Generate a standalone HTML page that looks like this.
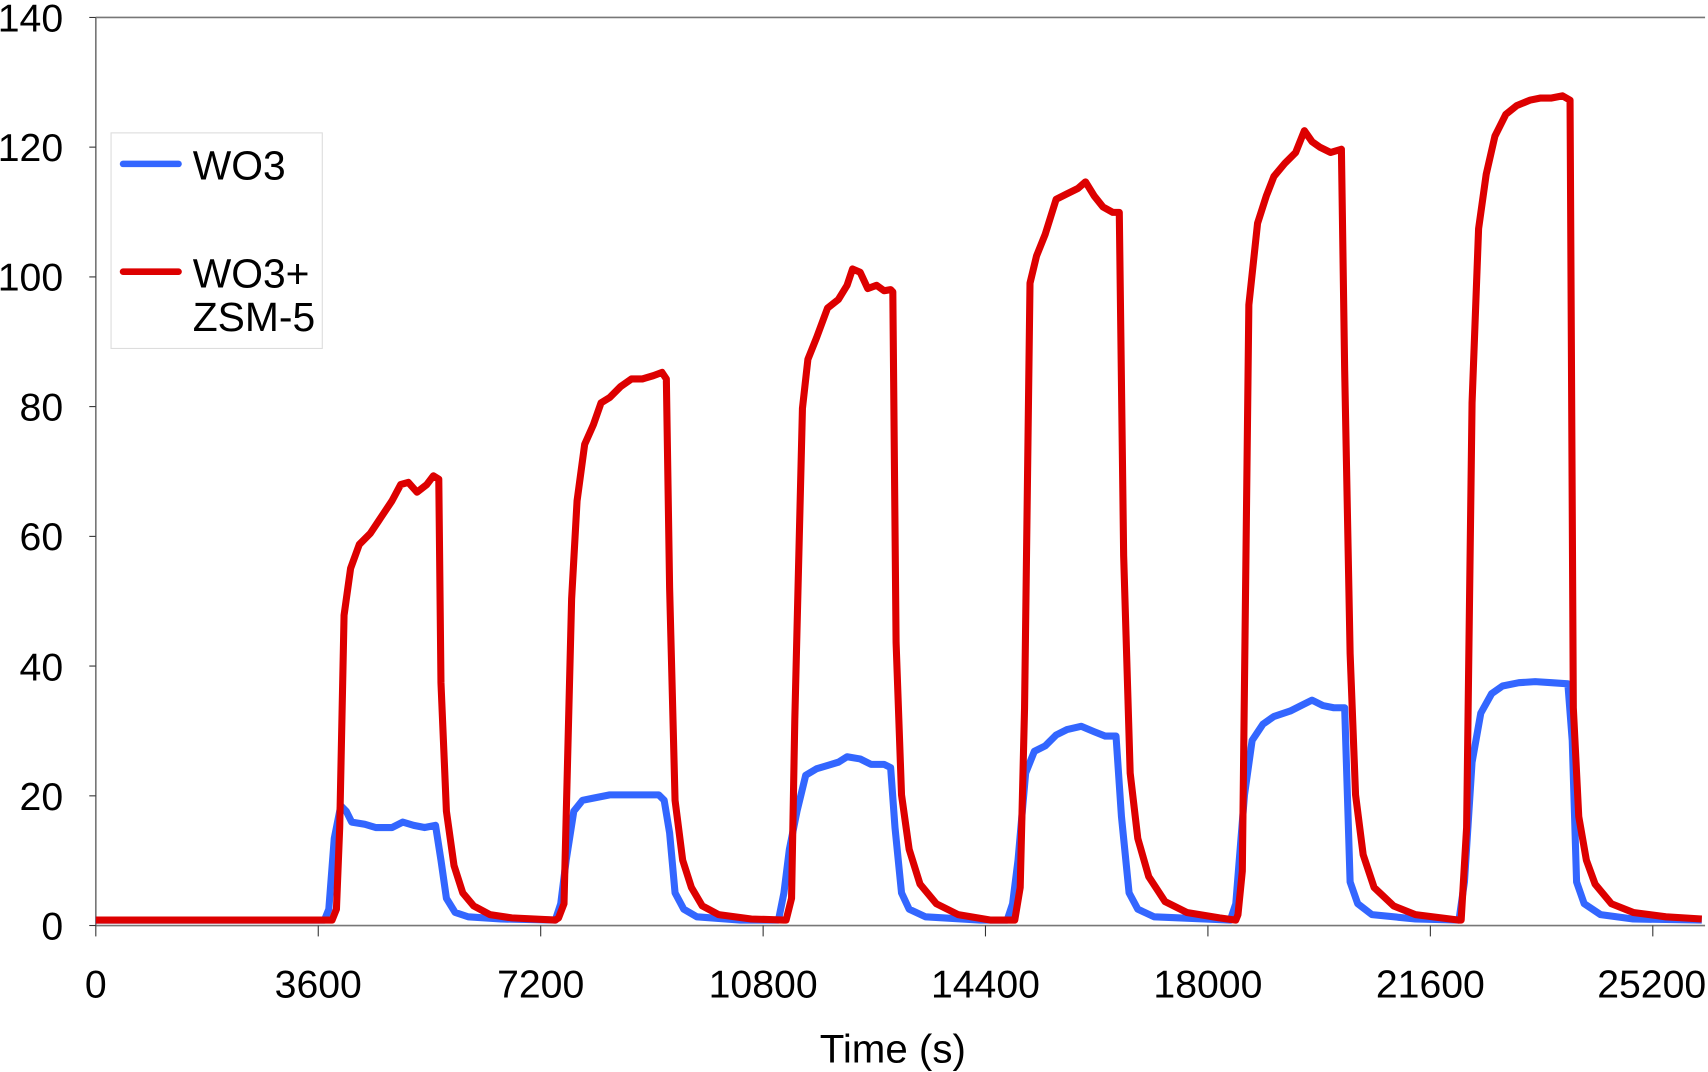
<!DOCTYPE html>
<html><head><style>html,body{margin:0;padding:0;background:#fff}svg{display:block}</style></head>
<body>
<svg width="1708" height="1072" viewBox="0 0 1568.7 984.5" xmlns="http://www.w3.org/2000/svg" font-family="Liberation Sans, sans-serif">
<rect width="1568.7" height="984.5" fill="#fff"/>
<g stroke="#777" stroke-width="1.5" fill="none">
<line x1="88" y1="16" x2="1566" y2="16"/>
<line x1="88" y1="16" x2="88" y2="850"/>
<line x1="88" y1="850" x2="1566" y2="850"/>
</g>
<g stroke="#333" stroke-width="1">
<line x1="82" y1="16" x2="88" y2="16"/><line x1="82" y1="135.1" x2="88" y2="135.1"/><line x1="82" y1="254.3" x2="88" y2="254.3"/><line x1="82" y1="373.4" x2="88" y2="373.4"/><line x1="82" y1="492.6" x2="88" y2="492.6"/><line x1="82" y1="611.7" x2="88" y2="611.7"/><line x1="82" y1="730.9" x2="88" y2="730.9"/><line x1="82" y1="850" x2="88" y2="850"/>
<line x1="88" y1="850" x2="88" y2="860"/><line x1="292.3" y1="850" x2="292.3" y2="860"/><line x1="496.6" y1="850" x2="496.6" y2="860"/><line x1="700.9" y1="850" x2="700.9" y2="860"/><line x1="905.1" y1="850" x2="905.1" y2="860"/><line x1="1109.4" y1="850" x2="1109.4" y2="860"/><line x1="1313.7" y1="850" x2="1313.7" y2="860"/><line x1="1518" y1="850" x2="1518" y2="860"/>
</g>
<g font-size="36" fill="#000" text-anchor="end">
<text x="58" y="29">140</text><text x="58" y="148">120</text><text x="58" y="267">100</text><text x="58" y="386">80</text><text x="58" y="505">60</text><text x="58" y="625">40</text><text x="58" y="744">20</text><text x="58" y="863">0</text>
</g>
<g font-size="36" fill="#000" text-anchor="middle">
<text x="88" y="916">0</text><text x="292.3" y="916">3600</text><text x="496.6" y="916">7200</text><text x="700.9" y="916">10800</text><text x="905.1" y="916">14400</text><text x="1109.4" y="916">18000</text><text x="1313.7" y="916">21600</text><text x="1517" y="916">25200</text>
<text x="820" y="976" font-size="37">Time (s)</text>
</g>
<rect x="102" y="122" width="194" height="198" fill="#fff" stroke="#ddd" stroke-width="1"/>
<line x1="113" y1="150.5" x2="164" y2="150.5" stroke="#3366ff" stroke-width="6" stroke-linecap="round"/>
<line x1="113" y1="249.5" x2="164" y2="249.5" stroke="#dd0000" stroke-width="6" stroke-linecap="round"/>
<g font-size="37.5" fill="#000">
<text x="177" y="165">WO3</text><text x="177" y="264">WO3+</text><text x="177" y="304">ZSM-5</text>
</g>
<g fill="none" stroke-width="6.5" stroke-linejoin="round">
<polyline stroke="#3366ff" points="88,845 298,845 302,835 307,770 313,740 318,745 323,755 335,757 345,760 360,760 370,755 380,758 390,760 400,758 405,790 410,825 418,838 430,842 460,844 510,845 515,830 520,790 527,745 535,735 545,733 560,730 580,730 605,730 610,735 615,765 620,820 628,835 640,842 680,845 715,845 720,820 725,780 732,745 740,712 750,706 760,703 770,700 778,695 790,697 800,702 812,702 818,705 822,760 828,820 835,835 850,842 900,845 925,845 930,830 935,790 942,710 950,690 960,685 970,675 980,670 993,667 1005,672 1015,676 1025,676 1030,750 1037,820 1045,835 1060,842 1130,845 1135,830 1143,730 1150,680 1160,665 1170,658 1185,653 1195,648 1205,643 1215,648 1225,650 1235,650 1240,810 1247,830 1260,840 1300,844 1340,845 1345,810 1352,700 1360,655 1370,637 1380,630 1395,627 1410,626 1425,627 1440,628 1444,680 1448,810 1455,830 1470,840 1500,844 1563,845"/>
<polyline stroke="#dd0000" points="88,845 305,845 309,835 312,760 316,565 322,522 330,500 340,490 350,475 360,460 368,445 375,443 383,452 392,445 398,437 403,440 405,627 410,745 417,795 425,820 435,832 450,840 470,843 510,845 513,843 518,830 525,550 530,460 537,408 545,390 552,370 560,365 570,355 580,348 590,348 600,345 608,342 612,348 615,540 620,735 627,790 635,815 645,832 660,840 690,844 720,845 722,845 727,825 730,660 737,375 742,330 750,310 760,283 770,275 778,262 783,247 790,250 797,265 805,262 812,267 818,266 820,268 823,590 828,730 835,780 845,812 860,830 880,840 910,845 930,845 932,845 937,815 941,650 946,260 952,235 960,215 970,183 980,178 990,173 997,167 1005,180 1013,190 1022,195 1028,195 1032,510 1038,710 1045,770 1055,805 1070,828 1090,838 1120,843 1135,845 1137,840 1141,800 1147,280 1155,205 1163,180 1170,162 1180,150 1190,140 1198,120 1205,130 1212,135 1222,140 1232,137 1235,340 1240,600 1245,730 1252,785 1262,815 1280,832 1300,840 1340,845 1342,845 1347,760 1352,370 1358,210 1365,160 1373,125 1383,105 1393,97 1405,92 1415,90 1425,90 1435,88 1442,92 1445,650 1450,750 1457,790 1465,812 1480,830 1500,838 1530,842 1563,844"/>
</g>
</svg>
</body></html>
